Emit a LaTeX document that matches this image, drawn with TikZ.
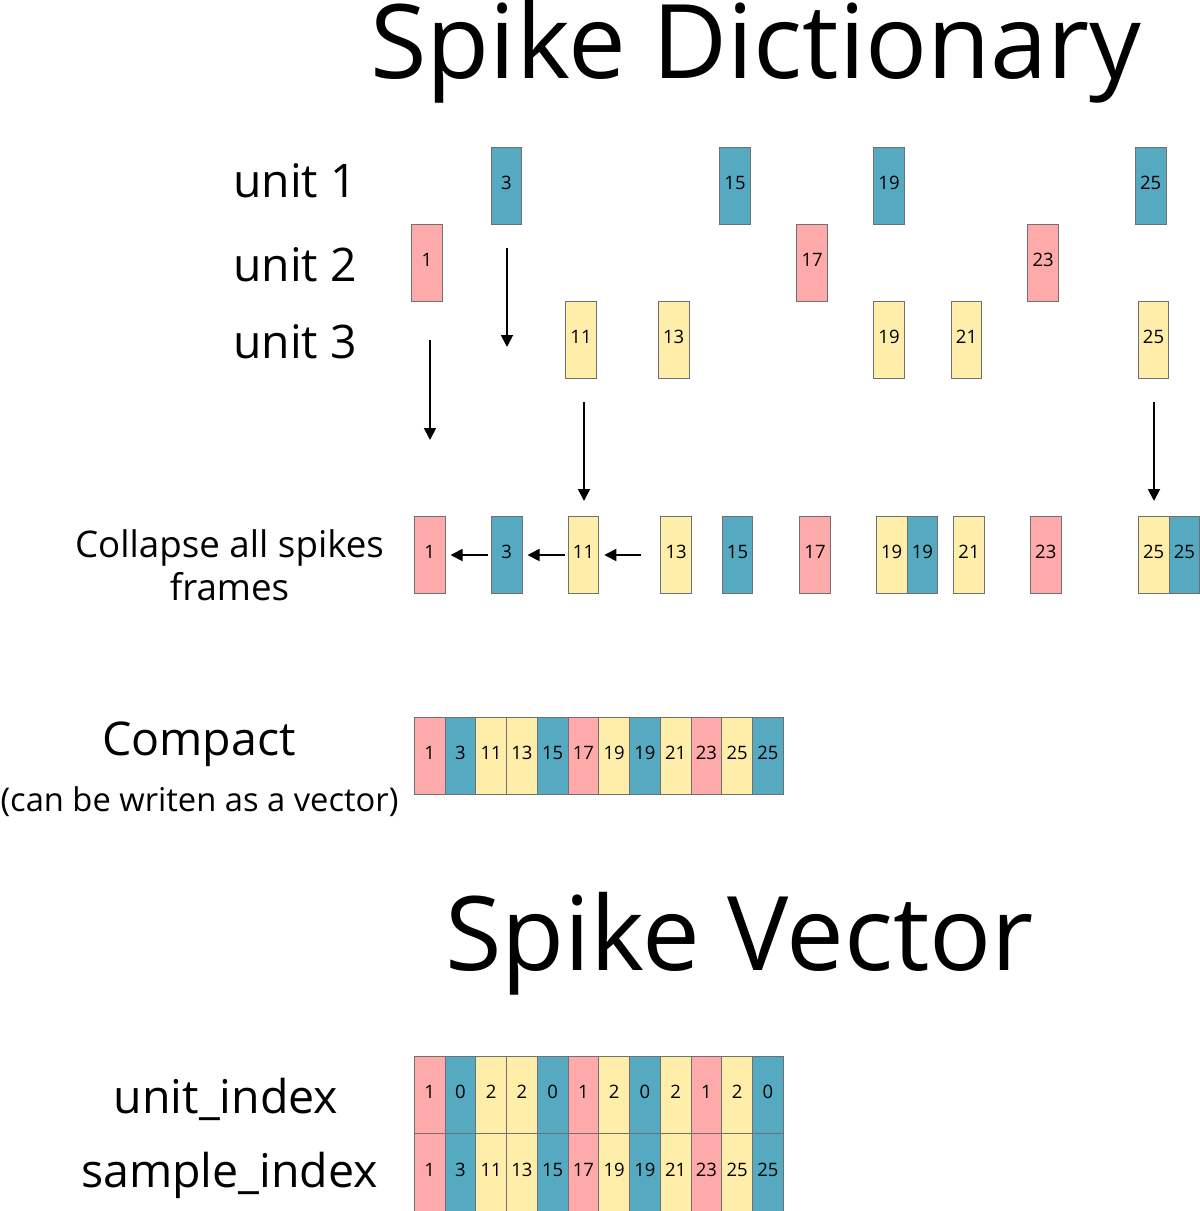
\documentclass[tikz,border=0pt]{standalone}
\usepackage{fontspec}
\setmainfont{Open Sans}
\usetikzlibrary{arrows.meta}
\definecolor{cpink}{HTML}{FFAAAA}
\definecolor{cteal}{HTML}{55AAC2}
\definecolor{cyell}{HTML}{FFEEAA}
\definecolor{cedge}{HTML}{707070}
\newcommand\fs[1]{\fontsize{#1}{#1}\selectfont}
\tikzset{
  spk/.style={rectangle, draw=cedge, line width=0.9pt, minimum width=30.7pt, minimum height=77pt, inner sep=0pt, text depth=5.5pt, font=\fs{18.5}},
  pk/.style={spk, fill=cpink},
  tl/.style={spk, fill=cteal},
  yl/.style={spk, fill=cyell},
  arr/.style={line width=1.8pt, -{Triangle[length=12pt,width=12pt]}},
  lbl/.style={inner sep=0pt, anchor=base},
}
\begin{document}
\begin{tikzpicture}[x=1pt,y=-1pt]
\useasboundingbox (0,0) rectangle (1200,1211);
% titles
\node[lbl, font=\fs{103}] (t1) at (756,78) {Spike Dictionary};
\node[lbl, font=\fs{103}] (t2) at (739.5,970) {Spike Vector};
% row labels
\node[lbl, anchor=base west, font=\fs{46.3}] (l1) at (233,197) {unit 1};
\node[lbl, anchor=base west, font=\fs{46.3}] (l2) at (233,281) {unit 2};
\node[lbl, anchor=base west, font=\fs{46.3}] (l3) at (233,358) {unit 3};
\node[lbl, font=\fs{36.7}] (lc1) at (229.5,557) {Collapse all spikes};
\node[lbl, font=\fs{36.7}] (lc2) at (229.5,600) {frames};
\node[lbl, font=\fs{46.5}] (lcp) at (199,755) {Compact};
\node[lbl, font=\fs{32.7}] (lcv) at (199.5,811) {(can be writen as a vector)};
\node[lbl, font=\fs{46.5}] (lui) at (226,1113) {unit\_index};
\node[lbl, font=\fs{46.5}] (lsi) at (229.5,1187) {sample\_index};
% unit rows
\node[tl] (u1a) at (506.5,185.5) {3};
\node[tl] (u1b) at (735,185.5) {15};
\node[tl] (u1c) at (889,185.5) {19};
\node[tl] (u1d) at (1150.7,185.5) {25};
\node[pk] (u2a) at (427,262.7) {1};
\node[pk] (u2b) at (812.2,262.7) {17};
\node[pk] (u2c) at (1043.2,262.7) {23};
\node[yl] (u3a) at (581,339.8) {11};
\node[yl] (u3b) at (673.7,339.8) {13};
\node[yl] (u3c) at (889,339.8) {19};
\node[yl] (u3d) at (966.5,339.8) {21};
\node[yl] (u3e) at (1153.5,339.8) {25};
% collapsed row
\node[pk] (c1) at (429.7,555) {1};
\node[tl] (c2) at (506.7,555) {3};
\node[yl] (c3) at (583.5,555) {11};
\node[yl] (c4) at (676.2,555) {13};
\node[tl] (c5) at (737.5,555) {15};
\node[pk] (c6) at (815,555) {17};
\node[yl] (c7) at (891.7,555) {19};
\node[tl] (c8) at (922.4,555) {19};
\node[yl] (c9) at (969,555) {21};
\node[pk] (c10) at (1045.8,555) {23};
\node[yl] (c11) at (1153.7,555) {25};
\node[tl] (c12) at (1184.4,555) {25};
% vertical arrows
\coordinate (a1s) at (507,248); \coordinate (a1e) at (507,347);
\coordinate (a2s) at (430,340); \coordinate (a2e) at (430,440);
\coordinate (a3s) at (584,402); \coordinate (a3e) at (584,501);
\coordinate (a4s) at (1154,402); \coordinate (a4e) at (1154,501);
\draw[arr] (a1s) -- (a1e);
\draw[arr] (a2s) -- (a2e);
\draw[arr] (a3s) -- (a3e);
\draw[arr] (a4s) -- (a4e);
% horizontal arrows
\draw[arr] ([xshift=-3pt]c2.west) -- ([xshift=5pt]c1.east);
\draw[arr] ([xshift=-3pt]c3.west) -- ([xshift=5pt]c2.east);
\draw[arr] ([xshift=-19pt]c4.west) -- ([xshift=5pt]c3.east);
% compact row
\foreach \i/\c/\v in {0/pk/1,1/tl/3,2/yl/11,3/yl/13,4/tl/15,5/pk/17,6/yl/19,7/tl/19,8/yl/21,9/pk/23,10/yl/25,11/tl/25}{
  \node[\c, minimum width=30.75pt] (k\i) at (429.7+30.75*\i,755.5) {\v};
}
% spike vector
\foreach \i/\c/\u/\v in {0/pk/1/1,1/tl/0/3,2/yl/2/11,3/yl/2/13,4/tl/0/15,5/pk/1/17,6/yl/2/19,7/tl/0/19,8/yl/2/21,9/pk/1/23,10/yl/2/25,11/tl/0/25}{
  \node[\c, minimum width=30.75pt, minimum height=77.5pt] (vu\i) at (429.7+30.75*\i,1095) {\u};
  \node[\c, minimum width=30.75pt, minimum height=77.5pt] (vs\i) at (429.7+30.75*\i,1172.5) {\v};
}
\end{tikzpicture}
\end{document}
